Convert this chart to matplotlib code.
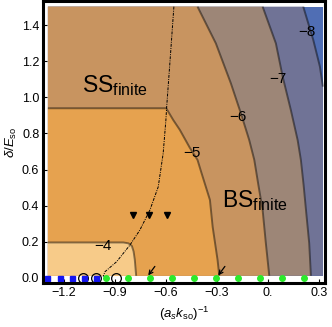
"""
Recreate the phase diagram with contour bands (values read from the reference).
"""

import matplotlib
matplotlib.use("Agg")
import matplotlib.pyplot as plt


# ------------------------------------------------------------
# Data
# ------------------------------------------------------------

# plotted region of the filled contours
FILL_X = [-1.294, 0.3235]
FILL_Y = [0.01, 1.504]

# contour polylines (x, delta)
C4_X = [-1.294, -0.85, -0.82, -0.80, -0.79, -0.783, -0.775]
C4_Y = [0.195, 0.195, 0.19, 0.175, 0.145, 0.10, 0.01]

C5_X = [-1.294, -0.598, -0.557, -0.518, -0.459, -0.414, -0.39, -0.341, -0.325, -0.296, -0.286]
C5_Y = [0.94, 0.94, 0.875, 0.82, 0.72, 0.653, 0.579, 0.431, 0.282, 0.097, 0.01]

C6_X = [-0.414, -0.306, -0.218, -0.159, -0.11, -0.08, -0.056, -0.031, -0.012, 0.008]
C6_Y = [1.504, 1.30, 1.079, 0.912, 0.764, 0.653, 0.514, 0.375, 0.19, 0.01]

C7_X = [-0.031, 0.047, 0.087, 0.135, 0.175, 0.194, 0.21, 0.224, 0.243, 0.253]
C7_Y = [1.504, 1.30, 1.115, 0.93, 0.763, 0.653, 0.514, 0.375, 0.19, 0.01]

C8_X = [0.208, 0.267, 0.306, 0.3235]
C8_Y = [1.504, 1.319, 1.171, 1.06]

CONTOUR_LEVELS = [-4, -5, -6, -7, -8]

# colours of the bands, from highest to lowest value
BAND_COLORS = ["#F7CB89", "#E6A24F", "#C89460", "#9D8677", "#707396", "#506EB4"]

# contour label positions
LABEL_X = [-0.969, -0.449, -0.178, 0.061, 0.231]
LABEL_Y = [0.175, 0.692, 0.893, 1.101, 1.362]

# dash-dotted boundary
DD_X = [-0.553, -0.574, -0.596, -0.60, -0.616, -0.645, -0.694, -0.753, -0.812, -0.89, -0.959, -0.969]
DD_Y = [1.504, 1.225, 0.94, 0.875, 0.69, 0.504, 0.375, 0.264, 0.18, 0.088, 0.032, 0.005]

# markers on delta = 0
SQUARE_X = [-1.298, -1.224, -1.151, -1.082, -1.012]
CIRCLE_X = [-1.086, -1.012, -0.894]
GREEN_X = [-0.953, -0.822, -0.694, -0.565, -0.434, -0.306, -0.178, -0.047, 0.082, 0.21]

TRIANGLE_X = [-0.792, -0.700, -0.592]
TRIANGLE_Y = [0.347, 0.347, 0.347]

# arrows (tail -> head)
ARROW_TAIL_X = [-0.665, -0.253]
ARROW_HEAD_X = [-0.704, -0.292]
ARROW_TAIL_Y = 0.062
ARROW_HEAD_Y = 0.012

X_TICKS = [-1.2, -0.9, -0.6, -0.3, 0.0, 0.3]
X_TICK_LABELS = ["\u22121.2", "\u22120.9", "\u22120.6", "\u22120.3", "0.", "0.3"]
Y_TICKS = [0.0, 0.2, 0.4, 0.6, 0.8, 1.0, 1.2, 1.4]
Y_TICK_LABELS = ["0.0", "0.2", "0.4", "0.6", "0.8", "1.0", "1.2", "1.4"]


# ------------------------------------------------------------
# Figure
# ------------------------------------------------------------

plt.rcParams["font.family"] = ["Liberation Sans", "DejaVu Sans"]
plt.rcParams["mathtext.fontset"] = "custom"
plt.rcParams["mathtext.rm"] = "Liberation Sans"
plt.rcParams["mathtext.it"] = "Liberation Sans:italic"


def left_side(xs, ys, corners):
    """Polygon on the high-value side of a contour."""
    px = list(xs) + [c[0] for c in corners]
    py = list(ys) + [c[1] for c in corners]
    return px, py


x0, x1 = FILL_X
y0, y1 = FILL_Y

fig = plt.figure(figsize=(3.32, 3.27), dpi=100)
ax = fig.add_axes([0.131, 0.1346, 0.849, 0.861])

# lowest band covers everything, higher bands painted on top
ax.fill([x0, x1, x1, x0], [y0, y0, y1, y1], color=BAND_COLORS[5], lw=0)

contours = [
    (C8_X, C8_Y, [(x1, y0), (x0, y0), (x0, y1)]),
    (C7_X, C7_Y, [(x0, y0), (x0, y1)]),
    (C6_X, C6_Y, [(x0, y0), (x0, y1)]),
    (C5_X, C5_Y, [(x0, y0)]),
    (C4_X, C4_Y, [(x0, y0)]),
]
for i, (cx, cy, corners) in enumerate(contours):
    px, py = left_side(cx, cy, corners)
    ax.fill(px, py, color=BAND_COLORS[4 - i], lw=0)

for cx, cy, _ in contours:
    ax.plot(cx, cy, color="black", alpha=0.45, lw=1.4, solid_capstyle="butt",
            solid_joinstyle="round")

for lev, lx, ly in zip(CONTOUR_LEVELS, LABEL_X, LABEL_Y):
    ax.text(lx, ly, f"\u2212{abs(lev)}", fontsize=11, ha="center", va="center")

ax.plot(DD_X, DD_Y, color="black", lw=0.7, dashes=(3, 1.2, 1, 1.2))

ax.text(-1.094, 1.027, r"SS$_{\mathrm{finite}}$", fontsize=16.5, ha="left", va="baseline")
ax.text(-0.268, 0.393, r"BS$_{\mathrm{finite}}$", fontsize=16.5, ha="left", va="baseline")

ax.plot(TRIANGLE_X, TRIANGLE_Y, "v", color="black", ms=5, ls="none")

ax.plot(CIRCLE_X, [0] * len(CIRCLE_X), "o", mfc="none", mec="black", mew=0.9, ms=7,
        ls="none", clip_on=False)
ax.plot(SQUARE_X, [0] * len(SQUARE_X), "s", color="#1515F0", ms=3.6, ls="none",
        clip_on=False)
ax.plot(GREEN_X, [0] * len(GREEN_X), "o", color="#2BEA2B", ms=4, ls="none",
        clip_on=False)

for tx, hx in zip(ARROW_TAIL_X, ARROW_HEAD_X):
    ax.annotate("", xy=(hx, ARROW_HEAD_Y), xytext=(tx, ARROW_TAIL_Y),
                arrowprops=dict(arrowstyle="->", color="black", lw=0.9,
                                shrinkA=0, shrinkB=0, mutation_scale=7))

ax.set_xlim(-1.32, 0.338)
ax.set_ylim(-0.03, 1.533)
ax.set_xticks(X_TICKS)
ax.set_xticklabels(X_TICK_LABELS)
ax.set_yticks(Y_TICKS)
ax.set_yticklabels(Y_TICK_LABELS)
ax.tick_params(direction="in", length=3, width=0.8, labelsize=9, pad=3)

for spine in ax.spines.values():
    spine.set_linewidth(2.2)

ax.set_xlabel(r"$(a_s k_{\mathrm{so}})^{-1}$", fontsize=9.5, labelpad=4)
ax.set_ylabel(r"$\delta/E_{\mathrm{so}}$", fontsize=9.5, labelpad=2)

fig.savefig("out.png", dpi=100)
